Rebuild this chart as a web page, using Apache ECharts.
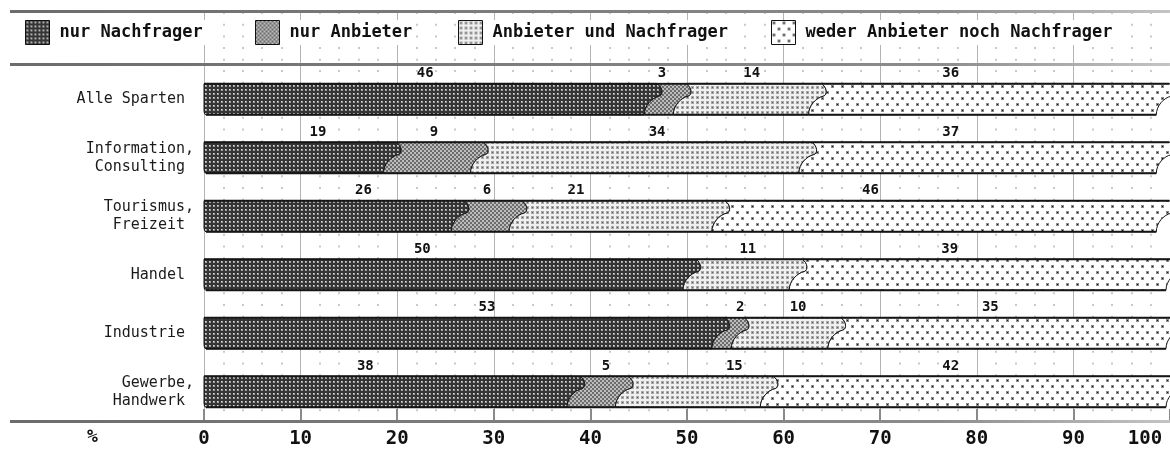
<!DOCTYPE html>
<html>
<head>
<meta charset="utf-8">
<script src="https://cdn.jsdelivr.net/npm/echarts@6/dist/echarts.min.js"></script>
<style>
  html, body { margin: 0; padding: 0; background: #fff; }
  #chart { width: 1170px; height: 454px; }
</style>
</head>
<body>
<div id="chart"></div>
<script>
// ---- data -------------------------------------------------------------
const categories = [
  'Alle Sparten ',
  'Information,\nConsulting ',
  'Tourismus,\nFreizeit ',
  'Handel ',
  'Industrie ',
  'Gewerbe,\nHandwerk '
];
const seriesNames = ['nur Nachfrager', 'nur Anbieter', 'Anbieter und Nachfrager', 'weder Anbieter noch Nachfrager'];
const nurNachfrager         = [46, 19, 26, 50, 53, 38];
const nurAnbieter           = [3, 9, 6, 0, 2, 5];
const anbieterUndNachfrager = [14, 34, 21, 11, 10, 15];
const wederNoch             = [36, 37, 46, 39, 35, 42];
const xTickValues = [0, 10, 20, 30, 40, 50, 60, 70, 80, 90, 100];

// ---- layout helpers ---------------------------------------------------
// horizontal shift of each value label from its segment centre (axis units)
const labelShift = [
  [-0.1, 2.3, 3.5, -2.4, 2.8, -2.3],
  [-0.1, 0.3, 0.3, 0, 1.5, 1.1],
  [0.7, 1.9, -4.0, 0.8, 1.5, 4.4],
  [-3.7, -3.2, -7.0, -3.3, -1.1, -1.7]
];
const MONO = '"DejaVu Sans Mono", "Liberation Mono", monospace';

function tile(w, h, draw) {
  const c = document.createElement('canvas');
  c.width = w; c.height = h;
  draw(c.getContext('2d'));
  return { image: c, repeat: 'repeat' };
}
const fills = [
  tile(4, 4, g => {
    g.fillStyle = '#353535'; g.fillRect(0, 0, 4, 4);
    g.fillStyle = '#a0a0a0'; g.fillRect(1, 1, 2, 2);
    g.fillStyle = '#dcdcdc'; g.fillRect(1, 1, 1, 1);
  }),
  tile(4, 4, g => {
    g.fillStyle = '#bcbcbc'; g.fillRect(0, 0, 4, 4);
    g.fillStyle = '#6c6c6c'; g.fillRect(0, 0, 2, 2); g.fillRect(2, 2, 2, 2);
  }),
  tile(5, 5, g => {
    g.fillStyle = '#f0f0f0'; g.fillRect(0, 0, 5, 5);
    g.fillStyle = '#a8a8a8'; g.fillRect(1, 1, 3, 3);
    g.fillStyle = '#5e5e5e'; g.fillRect(2, 2, 1, 1);
  }),
  tile(10, 12, g => {
    g.fillStyle = '#ffffff'; g.fillRect(0, 0, 10, 12);
    g.fillStyle = '#8a8a8a'; g.fillRect(1, 1, 3, 3); g.fillRect(6, 7, 3, 3);
    g.fillStyle = '#1a1a1a'; g.fillRect(2, 2, 1, 1); g.fillRect(7, 8, 1, 1);
  })
];

const valueSets = [nurNachfrager, nurAnbieter, anbieterUndNachfrager, wederNoch];

// stacked segments: [row, start, end, value]
function segments(k) {
  const out = [];
  categories.forEach((_, r) => {
    let start = 0;
    for (let j = 0; j < k; j++) start += valueSets[j][r];
    const v = valueSets[k][r];
    if (v > 0) out.push([r, start, start + v, v]);
  });
  return out;
}

// wavy separator between two segments, drawn bottom -> top or top -> bottom
function edgeUp(X, yt, yb, h) {
  const x0 = X - 4;
  return `C ${x0} ${yb - 0.3 * h} ${x0 + 0.25 * h} ${yb - 0.55 * h} ${x0 + 0.48 * h} ${yb - 0.6 * h} ` +
         `C ${x0 + 0.62 * h} ${yb - 0.64 * h} ${x0 + 0.6 * h} ${yt + 0.12 * h} ${x0 + 0.42 * h} ${yt} `;
}
function edgeDown(X, yt, yb, h) {
  const x0 = X - 4;
  return `C ${x0 + 0.6 * h} ${yt + 0.12 * h} ${x0 + 0.62 * h} ${yb - 0.64 * h} ${x0 + 0.48 * h} ${yb - 0.6 * h} ` +
         `C ${x0 + 0.25 * h} ${yb - 0.55 * h} ${x0} ${yb - 0.3 * h} ${x0} ${yb} `;
}

function makeRender(k) {
  return function (params, api) {
    const row = api.value(0), s = api.value(1), e = api.value(2), v = api.value(3);
    const pL = api.coord([s, row]);
    const pR = api.coord([e, row]);
    const h = api.size([0, 1])[1] * 0.53;
    const yc = pL[1], yt = yc - h / 2, yb = yc + h / 2;
    const xs = pL[0], xe = pR[0];
    let d, lb, lt;
    if (s === 0) {
      lb = xs + 2; lt = xs;
      d = `M ${lb} ${yb} L ${xe - 4} ${yb} ` + edgeUp(xe, yt, yb, h) +
          `L ${lt} ${yt} L ${xs} ${yb - 4} Q ${xs} ${yb} ${lb} ${yb} Z`;
    } else {
      lb = xs - 4; lt = xs - 4 + 0.42 * h;
      d = `M ${lb} ${yb} L ${xe - 4} ${yb} ` + edgeUp(xe, yt, yb, h) +
          `L ${lt} ${yt} ` + edgeDown(xs, yt, yb, h) + 'Z';
    }
    const rt = xe - 4 + 0.42 * h;
    const labelX = api.coord([(s + e) / 2 + labelShift[k][row], row])[0];
    return {
      type: 'group',
      children: [
        { type: 'path', shape: { pathData: d }, style: { fill: fills[k], stroke: '#151515', lineWidth: 1 } },
        { type: 'line', shape: { x1: lt, y1: yt, x2: rt, y2: yt }, style: { stroke: '#151515', lineWidth: 1.8 } },
        { type: 'line', shape: { x1: lb, y1: yb, x2: xe - 4, y2: yb }, style: { stroke: '#151515', lineWidth: 1.8 } },
        {
          type: 'text',
          style: {
            text: String(v), x: labelX, y: yt - 10,
            align: 'center', verticalAlign: 'middle',
            font: `bold 14px ${MONO}`, fill: '#111'
          }
        }
      ]
    };
  };
}

const series = seriesNames.map((name, k) => ({
  name,
  type: 'custom',
  xAxisIndex: 0,
  yAxisIndex: 0,
  renderItem: makeRender(k),
  encode: { x: [1, 2], y: 0 },
  data: segments(k),
  z: 3
}));

const legendLeft = [25, 255, 458, 771];
const legends = seriesNames.map((name, k) => ({
  data: [{ name, icon: 'rect', itemStyle: { color: fills[k], borderColor: '#111', borderWidth: 1 } }],
  left: legendLeft[k],
  top: 20,
  itemWidth: 24,
  itemHeight: 24,
  selectedMode: false,
  padding: [0, 3, 0, 0],
  backgroundColor: '#fff',
  textStyle: { fontFamily: MONO, fontWeight: 'bold', fontSize: 17, color: '#111', padding: [0, 0, 0, 5] }
}));

const dotLine = { color: '#c9c9c9', width: 2, type: [2, 9.7] };

function ruleBar(y) {
  return {
    type: 'rect',
    shape: { x: 10, y: y, width: 1160, height: 3 },
    style: {
      fill: new echarts.graphic.LinearGradient(0, 0, 1, 0, [
        { offset: 0, color: '#6c6c6c' },
        { offset: 0.8, color: '#8c8c8c' },
        { offset: 1, color: '#c4c4c4' }
      ])
    },
    z: 10
  };
}

const chart = echarts.init(document.getElementById('chart'), null, { renderer: 'canvas' });
chart.setOption({
  animation: false,
  backgroundColor: '#fff',
  legend: legends,
  grid: [
    { left: 204, right: 0, top: 70, bottom: 33 },
    { left: 204, right: 0, top: 12, height: 58 }
  ],
  xAxis: [
    {
      type: 'value', gridIndex: 0, min: 0, max: 100, interval: 10,
      axisLine: { show: false },
      axisTick: { show: true, inside: true, length: 12, lineStyle: { color: '#8a8a8a', width: 2 } },
      axisLabel: {
        margin: 9,
        formatter: v => (xTickValues.indexOf(v) < 0 ? '' : (v === 100 ? '{end|100}' : String(v))),
        fontFamily: MONO, fontWeight: 'bold', fontSize: 19, color: '#111',
        rich: { end: { fontFamily: MONO, fontWeight: 'bold', fontSize: 19, color: '#111', padding: [0, 50, 0, 0] } }
      },
      splitLine: { show: true, lineStyle: { color: '#b4b4b4', width: 1 } },
      minorTick: { show: false, splitNumber: 5 },
      minorSplitLine: { show: true, lineStyle: dotLine }
    },
    {
      type: 'value', gridIndex: 1, min: 0, max: 100, interval: 10,
      axisLine: { show: false }, axisTick: { show: false }, axisLabel: { show: false },
      splitLine: { show: true, lineStyle: { color: '#b4b4b4', width: 1 } },
      minorTick: { show: false, splitNumber: 5 },
      minorSplitLine: { show: true, lineStyle: dotLine }
    }
  ],
  yAxis: [
    {
      type: 'category', gridIndex: 0, data: categories, inverse: true,
      axisLine: { show: false }, axisTick: { show: false },
      axisLabel: { margin: 10, fontFamily: MONO, fontSize: 15, color: '#1a1a1a', lineHeight: 18, align: 'right' }
    },
    { type: 'value', gridIndex: 1, show: false }
  ],
  graphic: [
    ruleBar(10),
    ruleBar(63),
    ruleBar(420),
    {
      type: 'text', left: 87, top: 428,
      style: { text: '%', font: `bold 18px ${MONO}`, fill: '#111' }
    }
  ],
  series
});
</script>
</body>
</html>
